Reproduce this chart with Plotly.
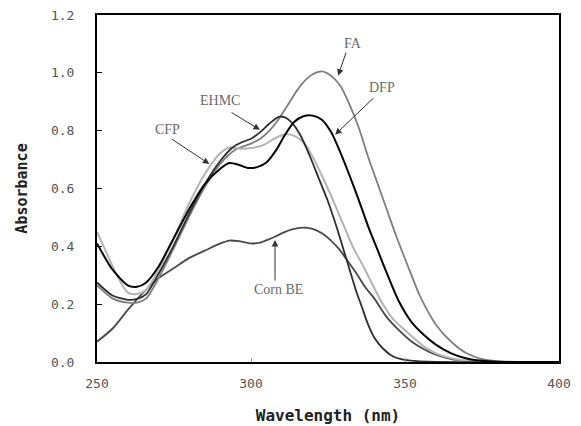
import plotly.graph_objects as go

# ---- data ----
FA_wl = [250,255,260,263,266,270,275,280,285,290,295,300,303,306,309,312,316,320,323,326,329,332,335,338,341,344,347,351,355,360,365,370,375,380,390,400]
FA_abs = [0.265,0.22,0.205,0.205,0.22,0.29,0.395,0.505,0.605,0.685,0.735,0.755,0.772,0.80,0.84,0.89,0.955,0.995,1.005,0.99,0.955,0.89,0.81,0.71,0.62,0.53,0.44,0.33,0.225,0.13,0.07,0.03,0.01,0.003,0,0]

DFP_wl = [250,255,260,263,266,270,275,280,285,290,293,296,299,302,305,308,311,314,317,320,323,326,329,332,335,338,341,344,348,352,356,360,365,370,375,380,390,400]
DFP_abs = [0.41,0.32,0.265,0.26,0.275,0.33,0.43,0.53,0.615,0.668,0.688,0.682,0.671,0.674,0.69,0.73,0.785,0.83,0.85,0.852,0.838,0.795,0.725,0.645,0.56,0.47,0.39,0.31,0.21,0.14,0.095,0.06,0.03,0.012,0.004,0.001,0,0]

EHMC_wl = [250,255,260,263,266,270,275,280,285,290,294,297,300,303,306,309,311,313,316,319,322,325,328,330,332,334,336,338,340,343,346,350,355,360,400]
EHMC_abs = [0.275,0.23,0.215,0.218,0.235,0.305,0.405,0.515,0.615,0.695,0.742,0.76,0.772,0.795,0.825,0.848,0.846,0.83,0.785,0.715,0.635,0.555,0.46,0.39,0.32,0.25,0.19,0.13,0.085,0.045,0.02,0.007,0.002,0,0]

CFP_wl = [250,253,256,260,263,266,270,275,280,285,290,293,296,300,304,308,311,314,317,320,323,326,329,333,337,342,346,351,356,360,365,370,375,380,400]
CFP_abs = [0.45,0.38,0.31,0.24,0.235,0.25,0.32,0.43,0.55,0.65,0.722,0.742,0.738,0.74,0.75,0.775,0.787,0.782,0.76,0.71,0.645,0.575,0.50,0.40,0.32,0.215,0.15,0.10,0.055,0.03,0.013,0.005,0.001,0,0]

CornBE_wl = [250,255,260,265,270,275,280,285,290,293,296,300,303,306,310,313,317,320,323,326,329,331,334,337,340,344,348,352,356,360,365,370,375,400]
CornBE_abs = [0.07,0.115,0.18,0.24,0.29,0.325,0.36,0.385,0.41,0.42,0.418,0.41,0.413,0.425,0.445,0.458,0.465,0.46,0.445,0.42,0.385,0.355,0.31,0.26,0.22,0.156,0.11,0.072,0.045,0.025,0.01,0.004,0.001,0]

x_ticks = [250, 300, 350, 400]
y_ticks = [0.0, 0.2, 0.4, 0.6, 0.8, 1.0, 1.2]

# label text position, arrow tail, arrow head (data coords)
labels = ["FA", "DFP", "EHMC", "CFP", "Corn BE"]
label_x = [333.2, 342.6, 290.0, 273.0, 309.0]
label_y = [1.10, 0.95, 0.905, 0.805, 0.25]
tail_x = [331.0, 340.3, 293.2, 273.8, 307.8]
tail_y = [1.075, 0.918, 0.866, 0.774, 0.276]
head_x = [328.3, 327.3, 302.9, 286.5, 307.8]
head_y = [0.99, 0.786, 0.803, 0.685, 0.422]

fig = go.Figure()
series = [
    (CornBE_wl, CornBE_abs, "#4a4a4a", 1.8),
    (FA_wl, FA_abs, "#7f7f7f", 1.8),
    (CFP_wl, CFP_abs, "#b4b4b4", 2.0),
    (EHMC_wl, EHMC_abs, "#2e2e2e", 1.8),
    (DFP_wl, DFP_abs, "#050505", 2.0),
]
for wl, ab, col, w in series:
    fig.add_trace(go.Scatter(x=wl, y=ab, mode="lines",
                             line=dict(color=col, width=w, shape="spline", smoothing=0.7),
                             showlegend=False, hoverinfo="skip"))

for i, t in enumerate(labels):
    fig.add_annotation(x=label_x[i], y=label_y[i], text=t, showarrow=False,
                       font=dict(family="Liberation Serif", size=14, color="#6a6a6a"))
    fig.add_annotation(x=head_x[i], y=head_y[i], ax=tail_x[i], ay=tail_y[i],
                       xref="x", yref="y", axref="x", ayref="y", text="",
                       showarrow=True, arrowhead=2, arrowsize=1.3, arrowwidth=1,
                       arrowcolor="#333333")

# page body adds an 8px offset, so the figure is sized 8px smaller
fig.update_layout(
    width=573, height=418,
    margin=dict(l=89, r=22, t=7, b=64, autoexpand=False),
    paper_bgcolor="white", plot_bgcolor="white",
    font=dict(family="DejaVu Sans Mono", size=13, color="#555555"),
)
fig.update_xaxes(range=[250, 400], tickvals=x_ticks, ticks="inside", ticklen=4,
                 tickcolor="#999999", showgrid=False, zeroline=False, automargin=False,
                 showline=True, linecolor="black", linewidth=2, mirror=True,
                 ticklabelstandoff=8, ticklabeloverflow="allow",
                 tickfont=dict(family="DejaVu Sans Mono", size=13, color="#555555"),
                 title=dict(text="Wavelength (nm)", standoff=20,
                            font=dict(family="DejaVu Sans Mono", size=16, color="#222222", weight="bold")))
fig.update_yaxes(range=[0, 1.2], tickvals=y_ticks, tickformat=".1f", ticks="inside",
                 ticklen=5, tickcolor="black", showgrid=False, zeroline=False, automargin=False,
                 showline=True, linecolor="black", linewidth=2, mirror=True,
                 ticklabelstandoff=18, ticklabeloverflow="allow",
                 tickfont=dict(family="DejaVu Sans Mono", size=13, color="#555555"),
                 title=dict(text="Absorbance", standoff=20,
                            font=dict(family="DejaVu Sans Mono", size=15, color="#222222", weight="bold")))

fig.write_html("out.html")
